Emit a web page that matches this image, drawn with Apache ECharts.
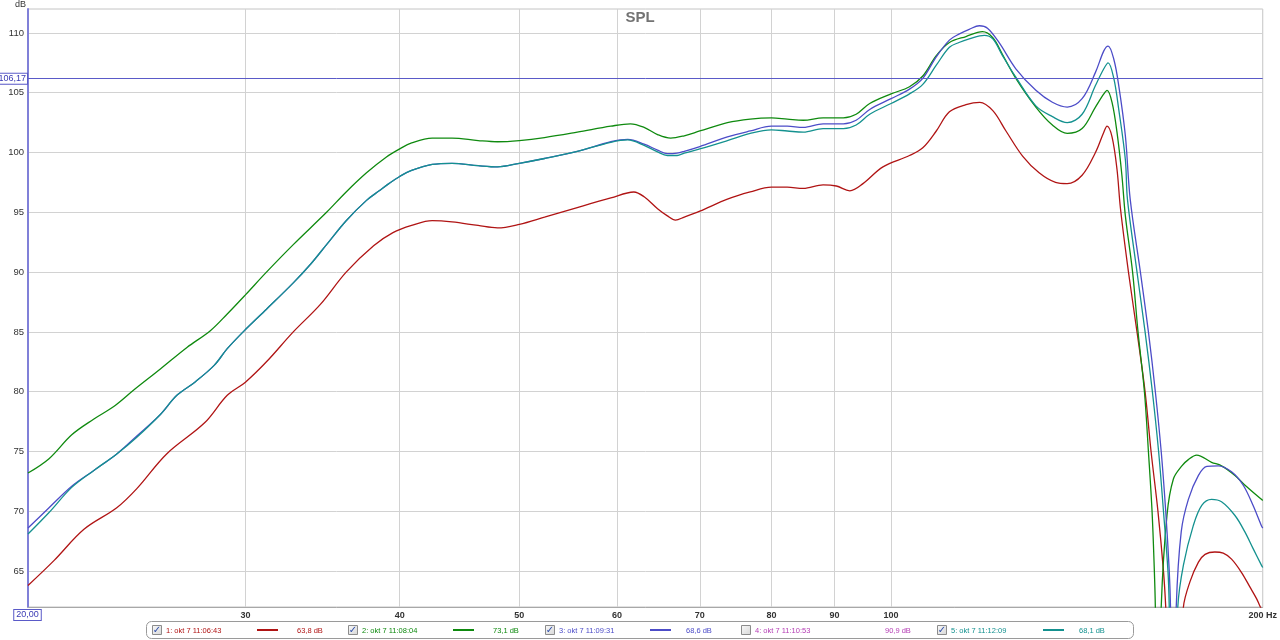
<!DOCTYPE html>
<html><head><meta charset="utf-8">
<script src="https://cdn.jsdelivr.net/npm/echarts@6/dist/echarts.min.js"></script>
<style>html,body{margin:0;padding:0;background:#fff}#c{width:1280px;height:640px}</style>
</head><body><div id="c"></div>
<script>
// ---- data ----
const freqTicks = [30, 40, 50, 60, 70, 80, 90, 100, 200];
const dbTicks = [65, 70, 75, 80, 85, 90, 95, 100, 105, 110];
const names = ['1: okt 7 11:06:43', '2: okt 7 11:08:04', '3: okt 7 11:09:31', '4: okt 7 11:10:53', '5: okt 7 11:12:09'];
const cursorValues = [63.8, 73.1, 68.6, 90.9, 68.1];
const checked = [true, true, true, false, true];
const cursorFreq = 20.00;
const cursorDb = 106.17;

const s1 = [[20,63.8],[21.0,65.9],[22.2,68.5],[23.6,70.3],[24.5,71.9],[25.9,74.8],[27.8,77.4],[29.0,79.7],[30,80.8],[31.2,82.5],[32.8,85.0],[34.5,87.3],[36.2,90.0],[38.1,92.2],[39.5,93.3],[40.9,93.9],[42.5,94.3],[44.1,94.2],[46.3,93.9],[48.0,93.7],[50,94.0],[52.4,94.6],[55.7,95.4],[59.3,96.2],[61.9,96.7],[63.1,96.3],[64.7,95.3],[65.9,94.7],[66.9,94.35],[68.0,94.6],[70,95.1],[73.7,96.1],[76.9,96.7],[80,97.1],[82.4,97.1],[84.9,97.0],[88.1,97.3],[90.3,97.2],[92.6,96.8],[94.9,97.4],[98.5,98.8],[103.5,99.75],[106.1,100.4],[108.8,101.8],[111.5,103.4],[115.0,104.0],[118.0,104.2],[120.9,103.5],[123.9,101.8],[127.8,99.7],[131.8,98.3],[135.9,97.5],[138.9,97.4],[142.8,98.1],[146.4,100.0],[148.7,101.7],[149.6,102.2],[151.0,101.3],[152.4,98.6],[153.4,95.3],[155.7,90],[158.2,85],[160.6,80],[162.4,75],[164.5,70],[166.2,65],[166.9,62],[168,55],[169.8,45],[171.5,55],[172.5,62],[174.6,64.1],[177.4,65.75],[179.6,66.4],[182.9,66.6],[185.8,66.5],[188.7,66.0],[192.2,64.9],[195.2,63.7],[197.7,62.7],[198.9,62.1],[200,61.6]];

const s2 = [[20,73.2],[20.8,74.4],[21.7,76.4],[22.6,77.7],[23.5,78.8],[24.4,80.2],[25.6,81.9],[26.9,83.7],[28.1,85.1],[29.0,86.5],[30,88.1],[31.2,90.0],[32.8,92.3],[34.9,95.0],[36.2,96.7],[37.6,98.3],[39.0,99.6],[40.0,100.3],[40.9,100.8],[42.5,101.2],[44.1,101.2],[46.3,101.0],[48.0,100.9],[50,101.0],[52.4,101.25],[55.7,101.7],[59.3,102.2],[61.5,102.4],[63.1,102.1],[64.7,101.5],[66.3,101.2],[68.0,101.4],[70,101.8],[73.7,102.5],[76.9,102.8],[80,102.9],[82.4,102.8],[84.9,102.7],[88.1,102.9],[91.5,102.9],[93.7,103.2],[96.1,104.1],[100,104.9],[103.5,105.5],[106.1,106.4],[108.8,108.1],[111.5,109.2],[115.0,109.7],[118.6,110.1],[120.9,109.6],[123.1,108.2],[126.2,106.2],[131.0,103.8],[135.1,102.3],[138.9,101.6],[142.8,102.0],[146.4,103.8],[148.7,104.9],[149.6,105.2],[151.0,104.2],[152.4,101.7],[153.8,98.1],[154.8,94.7],[156.9,90],[158.5,85],[160.4,80],[161.6,75],[162.7,70],[163.4,65],[163.7,62],[164.2,52],[164.9,52],[165.5,62],[167.3,69.7],[169.3,72.7],[172.0,73.8],[174.0,74.3],[176.8,74.7],[181.8,74.1],[185.2,73.8],[189.9,73.0],[193.4,72.2],[199.5,71.0],[200,70.9]];

const s3 = [[20,68.6],[20.8,70.3],[21.7,72.1],[22.6,73.4],[23.6,74.8],[24.5,76.3],[25.6,78.1],[26.4,79.7],[27.3,80.8],[28.3,82.2],[29.0,83.6],[30,85.2],[31.2,86.9],[32.8,89.1],[33.9,90.7],[34.9,92.3],[36.2,94.3],[37.6,96.0],[38.5,96.8],[39.2,97.4],[40,98.0],[40.9,98.5],[42.5,99.0],[44.1,99.1],[46.3,98.9],[48.0,98.8],[50,99.1],[52.4,99.5],[55.7,100.1],[59.3,100.9],[61.2,101.1],[63.1,100.7],[64.7,100.2],[65.9,99.9],[67.1,99.95],[68.0,100.1],[70,100.5],[73.7,101.3],[76.9,101.8],[80,102.2],[82.4,102.2],[84.9,102.1],[88.1,102.4],[91.5,102.4],[93.7,102.7],[96.1,103.6],[100,104.5],[103.5,105.3],[106.1,106.2],[108.8,108.0],[111.5,109.4],[113.5,109.9],[115.7,110.3],[117.9,110.6],[119.7,110.4],[122.3,109.2],[126.2,107.0],[131.0,105.2],[135.1,104.2],[138.9,103.8],[142.8,104.5],[146.4,106.7],[148.7,108.5],[149.9,108.9],[151.5,107.8],[152.9,105.6],[154.8,101.4],[156.2,96.1],[159.2,90],[161.6,85],[163.7,80],[165.5,75],[166.9,70],[168.0,65],[168.4,62],[169.0,52],[169.6,52],[170.2,62],[171.8,68.3],[174.1,71.0],[177.4,73.0],[180.2,73.75],[184.1,73.8],[188.7,73.3],[192.8,72.2],[196.4,70.5],[199.5,68.8],[200,68.6]];

const s5 = [[20,68.1],[20.8,69.9],[21.7,72.0],[22.6,73.4],[23.6,74.8],[24.5,76.2],[25.6,78.1],[26.4,79.7],[27.3,80.8],[28.3,82.2],[29.0,83.6],[30,85.2],[31.2,86.9],[32.8,89.1],[33.9,90.7],[34.9,92.3],[36.2,94.3],[37.6,96.0],[38.5,96.8],[39.2,97.4],[40,98.0],[40.9,98.5],[42.5,99.0],[44.1,99.1],[46.3,98.9],[48.0,98.8],[50,99.1],[52.4,99.5],[55.7,100.1],[59.3,100.85],[61.2,101.05],[63.1,100.6],[64.7,100.05],[65.9,99.75],[67.1,99.75],[68.0,99.95],[70,100.3],[73.7,101.0],[76.9,101.6],[80,101.9],[82.4,101.8],[84.9,101.7],[88.1,102.0],[91.5,102.0],[93.7,102.3],[96.1,103.2],[100,104.1],[103.5,104.9],[106.1,105.7],[108.8,107.3],[111.5,108.8],[113.5,109.2],[115.7,109.5],[119.0,109.8],[120.9,109.5],[123.1,108.1],[126.2,106.3],[131.0,103.9],[135.1,103.0],[138.9,102.5],[142.8,103.2],[146.4,105.6],[148.7,107.0],[149.9,107.5],[151.5,106.2],[152.9,103.6],[154.8,99.4],[155.4,96.1],[158.2,90],[160.6,85],[162.8,80],[164.7,75],[166.2,70],[167.6,65],[168.0,62],[168.8,52],[169.8,52],[170.7,62],[172.5,65.5],[175.7,68.8],[178.5,70.5],[181.8,71.0],[185.2,70.8],[189.9,69.65],[193.4,68.3],[196.4,66.9],[199.5,65.5],[200,65.3]];

// ---- chart ----
const colors = ['#b01414', '#0f8a0f', '#4c4cc8', '#b43cb4', '#14918f'];
const L = v => Math.log10(v);
const toXY = arr => arr.map(p => [L(p[0]), p[1]]);
const fmt = v => v.toFixed(1).replace('.', ',');
const fmt2 = v => v.toFixed(2).replace('.', ',');
const FONT = 'Liberation Sans, Arial, sans-serif';
const cursorColor = '#5a5ac8';

function lineSeries(name, data, color, extra) {
  return Object.assign({
    type: 'line', name: name, data: toXY(data), showSymbol: false, symbol: 'none',
    smooth: 0.35, clip: true, animation: false,
    lineStyle: { color: color, width: 1.3 }, itemStyle: { color: color }
  }, extra || {});
}

const series = [
  lineSeries(names[0], s1, colors[0], {
    markLine: {
      silent: true, symbol: 'none', animation: false,
      data: [
        { yAxis: cursorDb, lineStyle: { color: cursorColor, width: 1, type: 'solid' },
          label: { show: true, position: 'start', distance: 1, formatter: fmt2(cursorDb),
            color: '#3a3ab4', fontSize: 9, fontFamily: FONT, backgroundColor: '#fff',
            borderColor: cursorColor, borderWidth: 1, padding: [1, 1, 0, 1] } }
      ]
    }
  }),
  lineSeries(names[1], s2, colors[1]),
  lineSeries(names[2], s3, colors[2]),
  lineSeries(names[4], s5, colors[4])
];

// legend + cursor readout graphics
const legendX = [152, 348, 545, 741, 937];
const sampleX = [257, 453, 650, null, 1043];
const valueX = [297, 493, 686, 885, 1079];
const graphic = [
  { type: 'text', x: 15, y: 0, style: { text: 'dB', font: '9px ' + FONT, fill: '#333' } },
  { type: 'text', x: 27.5, y: 615, z: 10, style: { text: fmt2(cursorFreq), font: '9px ' + FONT, fill: '#3a3ab4',
      align: 'center', verticalAlign: 'middle', backgroundColor: '#fff', borderColor: cursorColor, borderWidth: 1, padding: [1, 2, 0, 2] } },
  { type: 'rect', shape: { x: 146.5, y: 621.5, width: 987, height: 17, r: 5 },
    style: { fill: '#fff', stroke: '#9a9a9a', lineWidth: 1 } }
];
for (let i = 0; i < names.length; i++) {
  const cx = legendX[i];
  graphic.push({ type: 'rect', shape: { x: cx + 0.5, y: 625.5, width: 9, height: 9 },
    style: { fill: new echarts.graphic.LinearGradient(0, 0, 1, 1, [{ offset: 0, color: '#fafafa' }, { offset: 1, color: '#d6d6d6' }]), stroke: '#8c8c8c', lineWidth: 1 } });
  if (checked[i]) {
    graphic.push({ type: 'text', x: cx + 5, y: 630, style: { text: '✓', font: 'bold 10px DejaVu Sans', fill: '#2a4aa8', align: 'center', verticalAlign: 'middle' } });
  }
  graphic.push({ type: 'text', x: cx + 14, y: 630.5, style: { text: names[i], font: '7.5px ' + FONT, fill: colors[i], verticalAlign: 'middle' } });
  if (sampleX[i] !== null) {
    graphic.push({ type: 'line', shape: { x1: sampleX[i], y1: 630, x2: sampleX[i] + 21, y2: 630 }, style: { stroke: colors[i], lineWidth: 2 } });
  }
  graphic.push({ type: 'text', x: valueX[i], y: 630.5, style: { text: fmt(cursorValues[i]) + ' dB', font: '7.5px ' + FONT, fill: colors[i], verticalAlign: 'middle' } });
}

const chart = echarts.init(document.getElementById('c'), null, { renderer: 'canvas' });
chart.setOption({
  animation: false,
  backgroundColor: '#fff',
  title: { text: 'SPL', left: 'center', top: 10, padding: 0,
    textStyle: { fontSize: 15, fontWeight: 'bold', color: '#737373', fontFamily: FONT } },
  grid: { left: 28, right: 12, top: 9, bottom: 33, show: true, borderColor: '#c4c4c4', borderWidth: 1, backgroundColor: 'transparent' },
  xAxis: {
    type: 'value', min: L(20), max: L(200),
    axisLine: { show: true, lineStyle: { color: '#a8a8a8', width: 1 } },
    axisTick: { show: false, customValues: freqTicks.map(L) },
    axisLabel: { customValues: freqTicks.map(L), margin: 4, fontSize: 9, fontWeight: 'bold', color: '#333', fontFamily: FONT,
      formatter: v => { const f = Math.round(Math.pow(10, v)); return f === 200 ? '200 Hz' : String(f); } },
    splitLine: { show: true, lineStyle: { color: '#d2d2d2', width: 1 } }
  },
  yAxis: {
    type: 'value', min: 62, max: 112,
    axisLine: { show: true, lineStyle: { color: '#8080d8', width: 2 } },
    axisTick: { show: false, customValues: dbTicks },
    axisLabel: { customValues: dbTicks, margin: 4, fontSize: 9.5, color: '#333', fontFamily: FONT },
    splitLine: { show: true, lineStyle: { color: '#d2d2d2', width: 1 } }
  },
  graphic: graphic,
  series: series
});
</script></body></html>
